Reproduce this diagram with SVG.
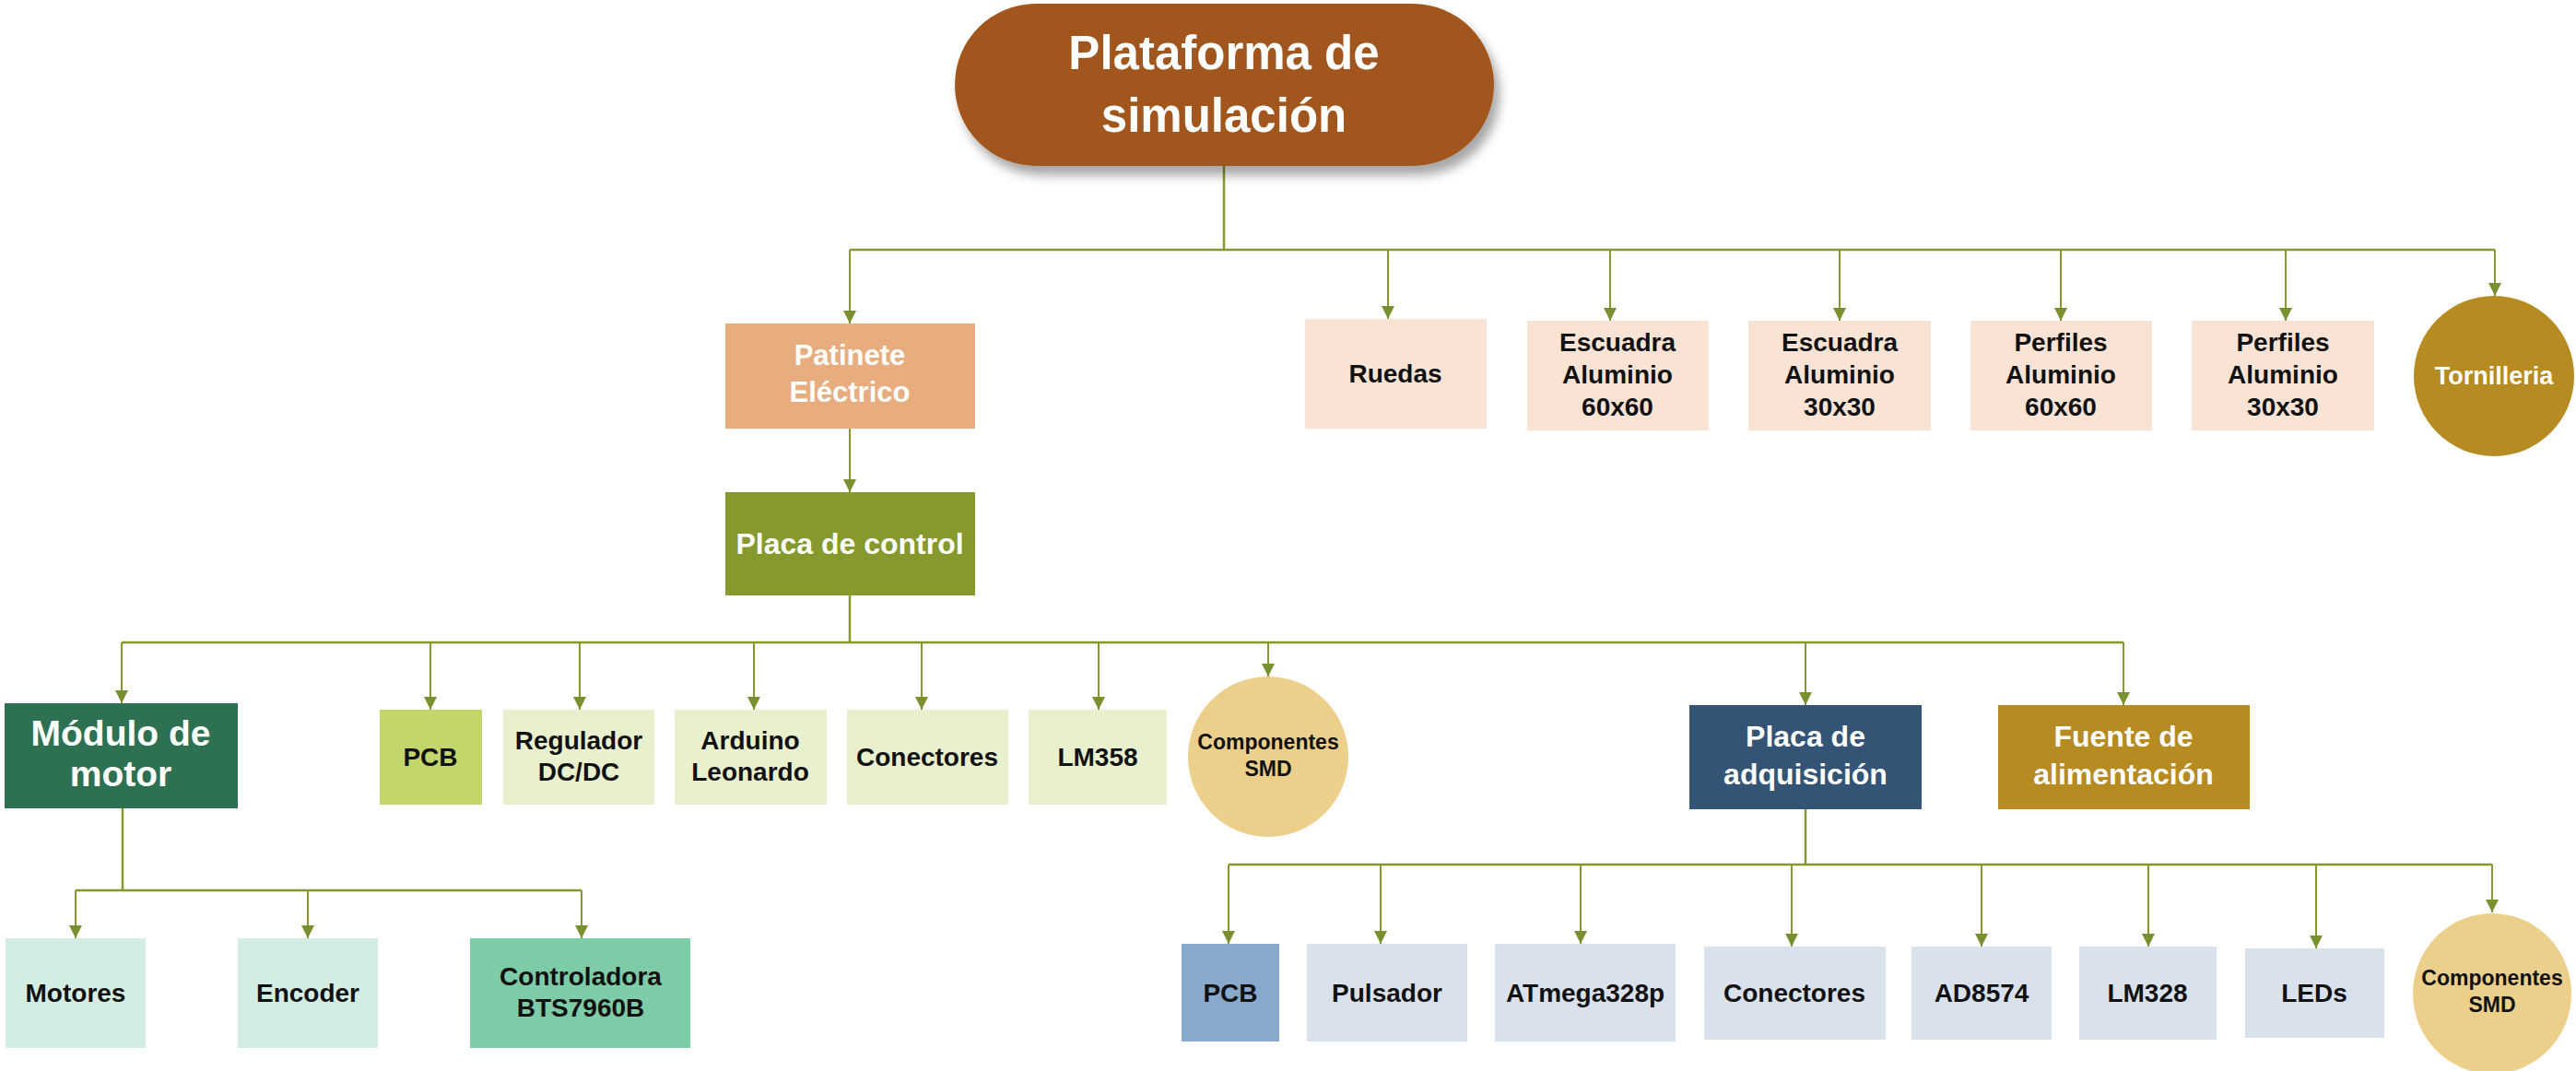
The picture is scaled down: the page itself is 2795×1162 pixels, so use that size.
<svg xmlns="http://www.w3.org/2000/svg" width="2795" height="1162" viewBox="0 0 2795 1162">
<defs>
<style>
.t{font-family:"Liberation Sans",Arial,sans-serif;font-weight:bold;text-anchor:middle}
.w{fill:#ffffff}
.k{fill:#111111}
.s28{font-size:28px}
.s23{font-size:23px}
.ln{fill:none;stroke:#86992D;stroke-width:2.5}
.ar{fill:none;stroke:#86992D;stroke-width:2;marker-end:url(#arr)}
.peach{fill:#F8E3D4}
.lime{fill:#E9F0CE}
.blue{fill:#D9E2EC}
.mint{fill:#D3EDE2}
.gold{fill:#B58B22}
.sand{fill:#ECCF8B}
</style>
<marker id="arr" markerUnits="userSpaceOnUse" markerWidth="14" markerHeight="14" refX="14" refY="7" orient="auto">
<path d="M0,0 L14,7 L0,14 z" fill="#7A9030"/>
</marker>
<filter id="sh" x="-20%" y="-30%" width="140%" height="170%">
<feDropShadow dx="6" dy="10" stdDeviation="6" flood-color="#000000" flood-opacity="0.35"/>
</filter>
</defs>
<rect width="2795" height="1162" fill="#ffffff"/>

<g id="connectors">
<path class="ln" d="M1328,180 V271 M922,271 H2707"/>
<path class="ar" d="M922,271 V351"/>
<path class="ar" d="M1506,271 V346"/>
<path class="ar" d="M1747,271 V348"/>
<path class="ar" d="M1996,271 V348"/>
<path class="ar" d="M2236,271 V348"/>
<path class="ar" d="M2480,271 V348"/>
<path class="ar" d="M2707,271 V321"/>
<path class="ar" d="M922,465 V534"/>
<path class="ln" d="M922,646 V697 M132,697 H2304"/>
<path class="ar" d="M132,697 V763"/>
<path class="ar" d="M467,697 V770"/>
<path class="ar" d="M629,697 V770"/>
<path class="ar" d="M818,697 V770"/>
<path class="ar" d="M1000,697 V770"/>
<path class="ar" d="M1192,697 V770"/>
<path class="ar" d="M1376,697 V734"/>
<path class="ar" d="M1959,697 V765"/>
<path class="ar" d="M2304,697 V765"/>
<path class="ln" d="M133,877 V966 M82,966 H631"/>
<path class="ar" d="M82,966 V1018"/>
<path class="ar" d="M334,966 V1018"/>
<path class="ar" d="M631,966 V1018"/>
<path class="ln" d="M1959,878 V938 M1333,938 H2704"/>
<path class="ar" d="M1333,938 V1024"/>
<path class="ar" d="M1498,938 V1024"/>
<path class="ar" d="M1715,938 V1024"/>
<path class="ar" d="M1944,938 V1027"/>
<path class="ar" d="M2150,938 V1027"/>
<path class="ar" d="M2331,938 V1027"/>
<path class="ar" d="M2513,938 V1029"/>
<path class="ar" d="M2704,938 V990"/>
</g>

<g id="root">
<rect x="1036" y="4" width="585" height="176" rx="88" ry="88" fill="#A0571E" filter="url(#sh)"/>
<text class="t w" font-size="51" x="1328" y="75">Plataforma de</text>
<text class="t w" font-size="51" x="1328" y="143">simulación</text>
</g>

<g id="patinete">
<rect x="787" y="351" width="271" height="114" fill="#E8AD7E"/>
<text class="t w" font-size="31" x="922" y="396">Patinete</text>
<text class="t w" font-size="31" x="922" y="436">Eléctrico</text>
</g>

<g id="ruedas">
<rect class="peach" x="1416" y="346" width="197" height="119"/>
<text class="t k s28" x="1514" y="415">Ruedas</text>
</g>
<g id="escuadra60">
<rect class="peach" x="1657" y="348" width="197" height="119"/>
<text class="t k s28" x="1755" y="381">Escuadra</text>
<text class="t k s28" x="1755" y="416">Aluminio</text>
<text class="t k s28" x="1755" y="451">60x60</text>
</g>
<g id="escuadra30">
<rect class="peach" x="1897" y="348" width="198" height="119"/>
<text class="t k s28" x="1996" y="381">Escuadra</text>
<text class="t k s28" x="1996" y="416">Aluminio</text>
<text class="t k s28" x="1996" y="451">30x30</text>
</g>
<g id="perfiles60">
<rect class="peach" x="2138" y="348" width="197" height="119"/>
<text class="t k s28" x="2236" y="381">Perfiles</text>
<text class="t k s28" x="2236" y="416">Aluminio</text>
<text class="t k s28" x="2236" y="451">60x60</text>
</g>
<g id="perfiles30">
<rect class="peach" x="2378" y="348" width="198" height="119"/>
<text class="t k s28" x="2477" y="381">Perfiles</text>
<text class="t k s28" x="2477" y="416">Aluminio</text>
<text class="t k s28" x="2477" y="451">30x30</text>
</g>
<g id="tornilleria">
<ellipse class="gold" cx="2706" cy="408" rx="87" ry="87"/>
<text class="t w" font-size="27" x="2706" y="417">Tornilleria</text>
</g>

<g id="placa-control">
<rect x="787" y="534" width="271" height="112" fill="#86992D"/>
<text class="t w" font-size="32" x="922" y="601">Placa de control</text>
</g>

<g id="modulo-motor">
<rect x="5" y="763" width="253" height="114" fill="#2E7152"/>
<text class="t w" font-size="39" x="131" y="809">Módulo de</text>
<text class="t w" font-size="39" x="131" y="853">motor</text>
</g>
<g id="pcb-control">
<rect x="412" y="770" width="111" height="103" fill="#C3D66C"/>
<text class="t k s28" x="467" y="831">PCB</text>
</g>
<g id="regulador">
<rect class="lime" x="546" y="770" width="164" height="103"/>
<text class="t k s28" x="628" y="813">Regulador</text>
<text class="t k s28" x="628" y="847">DC/DC</text>
</g>
<g id="arduino">
<rect class="lime" x="732" y="770" width="165" height="103"/>
<text class="t k s28" x="814" y="813">Arduino</text>
<text class="t k s28" x="814" y="847">Leonardo</text>
</g>
<g id="conectores-control">
<rect class="lime" x="919" y="770" width="175" height="103"/>
<text class="t k s28" x="1006" y="831">Conectores</text>
</g>
<g id="lm358">
<rect class="lime" x="1116" y="770" width="150" height="103"/>
<text class="t k s28" x="1191" y="831">LM358</text>
</g>
<g id="smd-control">
<ellipse class="sand" cx="1376" cy="821" rx="87" ry="87"/>
<text class="t k s23" x="1376" y="813">Componentes</text>
<text class="t k s23" x="1376" y="842">SMD</text>
</g>
<g id="placa-adquisicion">
<rect x="1833" y="765" width="252" height="113" fill="#335475"/>
<text class="t w" font-size="32" x="1959" y="810">Placa de</text>
<text class="t w" font-size="32" x="1959" y="851">adquisición</text>
</g>
<g id="fuente">
<rect class="gold" x="2168" y="765" width="273" height="113"/>
<text class="t w" font-size="32" x="2304" y="810">Fuente de</text>
<text class="t w" font-size="32" x="2304" y="851">alimentación</text>
</g>

<g id="motores">
<rect class="mint" x="6" y="1018" width="152" height="119"/>
<text class="t k s28" x="82" y="1087">Motores</text>
</g>
<g id="encoder">
<rect class="mint" x="258" y="1018" width="152" height="119"/>
<text class="t k s28" x="334" y="1087">Encoder</text>
</g>
<g id="controladora">
<rect x="510" y="1018" width="239" height="119" fill="#7ECBA8"/>
<text class="t k s28" x="630" y="1069">Controladora</text>
<text class="t k s28" x="630" y="1103">BTS7960B</text>
</g>

<g id="pcb-adq">
<rect x="1282" y="1024" width="106" height="106" fill="#88A8CC"/>
<text class="t k s28" x="1335" y="1087">PCB</text>
</g>
<g id="pulsador">
<rect class="blue" x="1418" y="1024" width="174" height="106"/>
<text class="t k s28" x="1505" y="1087">Pulsador</text>
</g>
<g id="atmega">
<rect class="blue" x="1622" y="1024" width="196" height="106"/>
<text class="t k s28" x="1720" y="1087">ATmega328p</text>
</g>
<g id="conectores-adq">
<rect class="blue" x="1849" y="1027" width="197" height="101"/>
<text class="t k s28" x="1947" y="1087">Conectores</text>
</g>
<g id="ad8574">
<rect class="blue" x="2074" y="1027" width="152" height="101"/>
<text class="t k s28" x="2150" y="1087">AD8574</text>
</g>
<g id="lm328">
<rect class="blue" x="2256" y="1027" width="149" height="101"/>
<text class="t k s28" x="2330" y="1087">LM328</text>
</g>
<g id="leds">
<rect class="blue" x="2436" y="1029" width="151" height="97"/>
<text class="t k s28" x="2511" y="1087">LEDs</text>
</g>
<g id="smd-adq">
<ellipse class="sand" cx="2704" cy="1078" rx="86" ry="87"/>
<text class="t k s23" x="2704" y="1069">Componentes</text>
<text class="t k s23" x="2704" y="1098">SMD</text>
</g>
</svg>
